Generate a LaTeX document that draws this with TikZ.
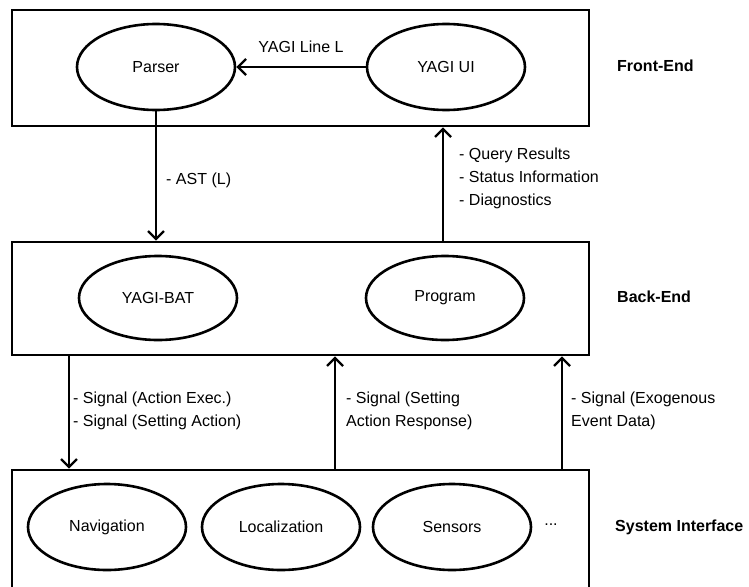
\documentclass[tikz,border=0pt]{standalone}
\usepackage{fontspec}
\setmainfont{Liberation Sans}
\usetikzlibrary{arrows.meta,shapes.geometric}
\begin{document}
\begin{tikzpicture}[x=1pt,y=-1pt,
  font=\fontsize{16}{23}\selectfont,
  layer/.style={draw,line width=2.6pt,rectangle,inner sep=0pt},
  comp/.style={draw,line width=2.6pt,ellipse,minimum width=158pt,minimum height=86pt,inner sep=0pt},
  arr/.style={line width=2.4pt,-{Straight Barb[length=8pt,width=16pt,line width=2.4pt]}},
  lbl/.style={anchor=west,align=left,inner sep=0pt},
  tier/.style={anchor=west,inner sep=0pt,font=\fontsize{16}{23}\selectfont\bfseries}]
\useasboundingbox (0,0) rectangle (749,586);

% layers
\node[layer,minimum width=577pt,minimum height=116pt] (front) at (300.5,68) {};
\node[layer,minimum width=577pt,minimum height=113pt] (back) at (300.5,298.5) {};
\node[layer,minimum width=577pt,minimum height=180pt] (sys) at (300.5,560) {};

% front-end components
\node[comp] (parser) at (156,67) {Parser};
\node[comp] (ui) at (446,67) {YAGI UI};
% back-end components
\node[comp,minimum height=84pt] (bat) at (158,298) {YAGI-BAT};
\node[comp,minimum height=84pt] (prog) at (445,298) {Program};
% system interface components
\node[comp] (nav) at (107,527) {Navigation};
\node[comp] (loc) at (281,527) {Localization};
\node[comp] (sens) at (452,527) {Sensors};
\node (more) at (551,525) {...};

% tier names
\node[tier] (tf) at (617,66) {Front-End};
\node[tier] (tb) at (617,297) {Back-End};
\node[tier] (ts) at (615,527) {System Interface};

% connectors
\draw[arr] (ui.west) -- (parser.east) node[midway,above=13pt,inner sep=0pt] (lineL) {YAGI Line L};
\draw[arr] (parser.south) -- (parser.south |- back.north);
\node[lbl] (ast) at (166,180) {- AST (L)};

\coordinate (upA) at (443,242);
\draw[arr] (upA) -- (upA |- front.south);
\node[lbl] (res) at (459,178) {- Query Results\\- Status Information\\- Diagnostics};

\coordinate (dn) at (69,355);
\draw[arr] (dn) -- (dn |- sys.north);
\node[lbl] (sig1) at (73,411) {- Signal (Action Exec.)\\- Signal (Setting Action)};

\coordinate (up1) at (335,470);
\draw[arr] (up1) -- (up1 |- back.south);
\node[lbl] (sig2) at (346,411) {- Signal (Setting\\Action Response)};

\coordinate (up2) at (562,470);
\draw[arr] (up2) -- (up2 |- back.south);
\node[lbl] (sig3) at (571,411) {- Signal (Exogenous\\Event Data)};
\end{tikzpicture}
\end{document}
